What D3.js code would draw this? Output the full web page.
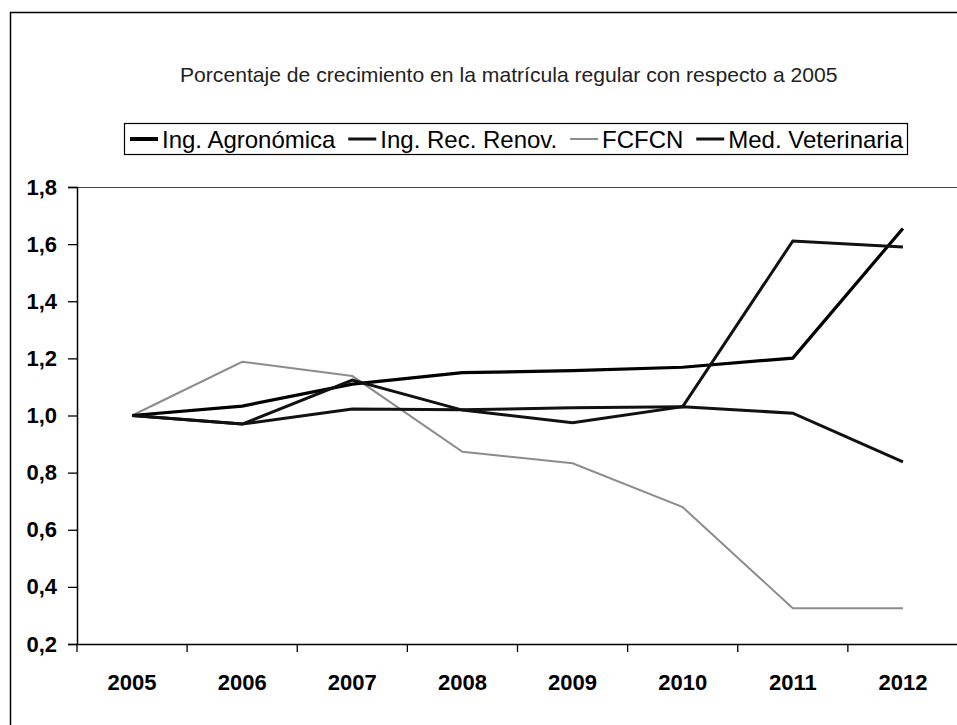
<!DOCTYPE html>
<html><head><meta charset="utf-8">
<script src="https://cdn.jsdelivr.net/npm/d3@7"></script>
<style>body{margin:0;background:#fff}svg{display:block}</style>
</head><body>
<svg id="c" width="957" height="725"></svg>
<script>
const years = ["2005","2006","2007","2008","2009","2010","2011","2012"];
const seriesNames = ["Ing. Agronómica","Ing. Rec. Renov.","FCFCN","Med. Veterinaria"];
const agronomica  = [1.0, 1.033, 1.11, 1.15, 1.157, 1.169, 1.201, 1.655];
const recRenov    = [1.0, 0.97, 1.124, 1.019, 0.975, 1.031, 1.611, 1.59];
const fcfcn       = [1.0, 1.188, 1.138, 0.873, 0.833, 0.679, 0.325, 0.325];
const veterinaria = [1.0, 0.97, 1.023, 1.02, 1.027, 1.031, 1.008, 0.838];
const yTicks = [0.2,0.4,0.6,0.8,1.0,1.2,1.4,1.6,1.8];
const titleText = "Porcentaje de crecimiento en la matrícula regular con respecto a 2005";

(function(){
const styles = [
  {color:"#000", width:3.2, legendWidth:4},
  {color:"#111", width:3, legendWidth:3},
  {color:"#8c8c8c", width:2, legendWidth:2},
  {color:"#111", width:3, legendWidth:3}
];
const data = [agronomica, recRenov, fcfcn, veterinaria];

const svg = d3.select("#c");
const font = "'Liberation Sans', Arial, sans-serif";
const pLeft = 77, pRight = 958, pTop = 187, pBottom = 644;

// outer frame
svg.append("path").attr("d", `M10.5,730 L10.5,12.5 L962,12.5`)
  .attr("fill","none").attr("stroke","#000").attr("stroke-width",1.5);

// title
const title = svg.append("text").attr("x",180).attr("y",82)
  .attr("font-family",font).attr("font-size",20).attr("fill","#222").text(titleText);
const tw = title.node().getComputedTextLength();
title.attr("font-size", 20*658/tw);

// scales
const x = d3.scaleBand().domain(years).range([pLeft, pRight]).padding(0);
const y = d3.scaleLinear().domain([0.2,1.8]).range([pBottom, pTop]);
const bw = x.bandwidth();
const loc = d3.formatLocale({decimal:",", thousands:".", grouping:[3], currency:["",""]});
const fmt = loc.format(".1f");

// plot frame top & right
svg.append("path").attr("d",`M${pLeft},${pTop+0.5} L${pRight},${pTop+0.5} L${pRight},${pBottom}`)
  .attr("fill","none").attr("stroke","#444").attr("stroke-width",1);

// y axis
const ya = svg.append("g").attr("transform",`translate(${pLeft},0)`)
  .call(d3.axisLeft(y).tickValues(yTicks).tickFormat(fmt).tickSize(9).tickPadding(11));
ya.select(".domain").attr("stroke","#000").attr("stroke-width",1.5);
ya.selectAll(".tick line").attr("stroke","#000").attr("stroke-width",1.3);
ya.selectAll("text").attr("font-family",font).attr("font-size",22).attr("font-weight","bold").attr("fill","#000");

// x axis labels
const xa = svg.append("g").attr("transform",`translate(0,${pBottom})`)
  .call(d3.axisBottom(x).tickSize(0).tickPadding(30));
xa.select(".domain").attr("stroke","#000").attr("stroke-width",1.5);
xa.selectAll("text").attr("font-family",font).attr("font-size",22).attr("font-weight","bold").attr("fill","#000");
// boundary ticks
const bounds = years.map(d=>x(d)).concat([x(years[years.length-1])+bw]);
svg.append("g").selectAll("line").data(bounds).join("line")
  .attr("x1",d=>d).attr("x2",d=>d).attr("y1",pBottom).attr("y2",pBottom+8)
  .attr("stroke","#000").attr("stroke-width",1.3);

// lines
const line = d3.line().x((v,i)=>x(years[i])+bw/2).y(v=>y(v));
const drawOrder = [2,3,0,1];
drawOrder.forEach(k=>{
  svg.append("path").datum(data[k]).attr("d",line)
    .attr("fill","none").attr("stroke",styles[k].color).attr("stroke-width",styles[k].width)
    .attr("stroke-linejoin","miter");
});

// legend
const lg = svg.append("g");
lg.append("rect").attr("x",124.5).attr("y",123.5).attr("width",783).attr("height",31)
  .attr("fill","#fff").attr("stroke","#000").attr("stroke-width",1.2);
const fs = 24, sampleLen = 28, gapST = 4;
const texts = seriesNames.map(n=>
  lg.append("text").attr("font-family",font).attr("font-size",fs).attr("fill","#000").attr("y",147.5).text(n));
const widths = texts.map(t=>t.node().getComputedTextLength());
const startX = 130, endX = 903;
const totalItems = widths.reduce((a,b)=>a+b,0) + 4*(sampleLen+gapST);
const itemGap = (endX-startX-totalItems)/3;
let cx = startX;
texts.forEach((t,i)=>{
  lg.append("line").attr("x1",cx).attr("x2",cx+sampleLen).attr("y1",139).attr("y2",139)
    .attr("stroke",styles[i].color).attr("stroke-width",styles[i].legendWidth);
  t.attr("x",cx+sampleLen+gapST);
  cx += sampleLen+gapST+widths[i]+itemGap;
});
})();
</script>
</body></html>
